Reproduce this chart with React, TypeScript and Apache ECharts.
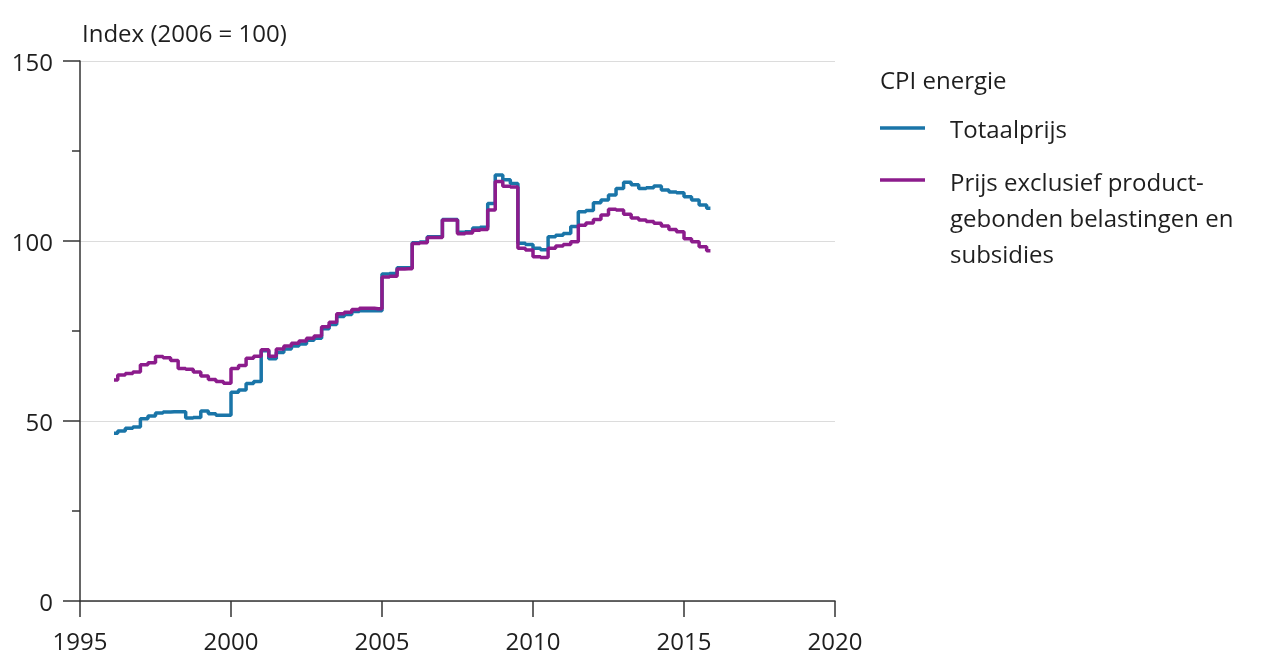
import React, { useEffect, useRef } from "react";
import * as echarts from "echarts";

const yearsStart = 1996;

const seriesNames = ["Totaalprijs", "Prijs exclusief product-\ngebonden belastingen en\nsubsidies"];
const legendTitle = "CPI energie";
const yAxisTitle = "Index (2006 = 100)";

const xTicks = [1995, 2000, 2005, 2010, 2015, 2020];
const yTicks = [0, 50, 100, 150];

// quarterly values, 1996 Q1 .. 2015 Q4
const totaalprijs = [
  46.6, 47.2, 48.0, 48.3,
  50.6, 51.4, 52.2, 52.5,
  52.6, 52.6, 50.8, 51.0,
  52.8, 52.0, 51.6, 51.6,
  58.0, 58.6, 60.4, 61.0,
  69.5, 67.3, 69.0, 70.0,
  70.8, 71.4, 72.4, 73.0,
  75.6, 76.8, 79.0, 79.6,
  80.4, 80.6, 80.6, 80.6,
  90.8, 91.0, 92.6, 92.6,
  99.5, 99.7, 101.2, 101.2,
  106.0, 106.0, 102.4, 102.6,
  103.6, 103.8, 110.4, 118.3,
  117.0, 116.0, 99.4, 99.0,
  98.0, 97.6, 101.2, 101.6,
  102.1, 104.0, 108.1, 108.5,
  110.6, 111.4, 112.8, 114.6,
  116.3, 115.6, 114.6, 114.8,
  115.3, 114.2, 113.6, 113.4,
  112.3, 111.4, 110.0, 109.1,
];

const exclusief = [
  61.4, 62.8, 63.2, 63.6,
  65.6, 66.2, 67.9, 67.6,
  66.8, 64.6, 64.4, 63.6,
  62.5, 61.5, 61.0, 60.5,
  64.6, 65.4, 67.4, 68.0,
  69.8, 68.0, 70.0, 70.8,
  71.6, 72.2, 73.0, 73.6,
  76.2, 77.4, 79.8, 80.2,
  81.0, 81.3, 81.3, 81.2,
  90.0, 90.2, 92.2, 92.3,
  99.3, 99.5, 101.0, 101.0,
  105.8, 105.8, 102.0, 102.2,
  103.0, 103.2, 108.6, 116.5,
  115.2, 115.0, 98.0, 97.5,
  95.6, 95.4, 98.0, 98.6,
  99.0, 99.8, 104.4, 105.0,
  106.0, 107.2, 108.8, 108.6,
  107.4, 106.4, 105.8, 105.4,
  104.9, 104.2, 103.2, 102.6,
  100.6, 99.8, 98.4, 97.3,
];

const colors = ["#1a75a8", "#8c1c8c"];

function quarterMid(i: number): number {
  return yearsStart + Math.floor(i / 4) + ((i % 4) + 0.5) / 4;
}

export default function App() {
  const ref = useRef<HTMLDivElement>(null);
  useEffect(() => {
    if (!ref.current) return;
    const chart = echarts.init(ref.current, null, { renderer: "svg" });
    const font = "'Open Sans', 'Noto Sans', sans-serif";
    const textColor = "#1e1e1e";
    const fs = 24;
    const s1 = totaalprijs.map((v, i) => [quarterMid(i), v]);
    const s2 = exclusief.map((v, i) => [quarterMid(i), v]);
    const legendX = 880;
    const legendTextX = 950;
    chart.setOption({
      animation: false,
      textStyle: { fontFamily: font },
      grid: { left: 80, right: 428, top: 61, bottom: 56, containLabel: false },
      xAxis: {
        type: "value",
        min: xTicks[0],
        max: xTicks[xTicks.length - 1],
        interval: 5,
        axisLine: { show: true, lineStyle: { color: "#333", width: 1.5 } },
        axisTick: { show: true, length: 16, lineStyle: { color: "#333", width: 1.5 } },
        axisLabel: { margin: 27, fontSize: fs, color: textColor, fontFamily: font, formatter: (v: number) => String(v) },
        splitLine: { show: false },
      },
      yAxis: {
        type: "value",
        min: yTicks[0],
        max: yTicks[yTicks.length - 1],
        interval: 50,
        axisLine: { show: true, lineStyle: { color: "#333", width: 1.5 } },
        axisTick: { show: true, length: 17, lineStyle: { color: "#333", width: 1.5 } },
        minorTick: { show: true, splitNumber: 2, length: 8, lineStyle: { color: "#333", width: 1.5 } },
        axisLabel: { margin: 27, fontSize: fs, color: textColor, fontFamily: font, formatter: (v: number) => String(v) },
        splitLine: { show: true, lineStyle: { color: "#dcdcdc", width: 1.2 } },
      },
      series: [
        {
          name: seriesNames[0],
          type: "line",
          step: "middle",
          data: s1,
          showSymbol: false,
          lineStyle: { color: colors[0], width: 3.5 },
          itemStyle: { color: colors[0] },
        },
        {
          name: seriesNames[1],
          type: "line",
          step: "middle",
          data: s2,
          showSymbol: false,
          lineStyle: { color: colors[1], width: 3.5 },
          itemStyle: { color: colors[1] },
        },
      ],
      graphic: [
        {
          type: "text",
          x: 82,
          y: 32,
          style: { text: yAxisTitle, fontSize: fs, fontFamily: font, fill: textColor, textVerticalAlign: "middle" },
        },
        {
          type: "text",
          x: legendX,
          y: 79,
          style: { text: legendTitle, fontSize: fs, fontFamily: font, fill: textColor, textVerticalAlign: "middle" },
        },
        {
          type: "line",
          shape: { x1: legendX, y1: 128, x2: legendX + 45, y2: 128 },
          style: { stroke: colors[0], lineWidth: 3.5 },
        },
        {
          type: "text",
          x: legendTextX,
          y: 128,
          style: { text: seriesNames[0], fontSize: fs, fontFamily: font, fill: textColor, textVerticalAlign: "middle" },
        },
        {
          type: "line",
          shape: { x1: legendX, y1: 180, x2: legendX + 45, y2: 180 },
          style: { stroke: colors[1], lineWidth: 3.5 },
        },
        {
          type: "text",
          x: legendTextX,
          y: 163,
          style: { text: seriesNames[1], fontSize: fs, lineHeight: 36, fontFamily: font, fill: textColor, textVerticalAlign: "top" },
        },
      ],
    });
    return () => chart.dispose();
  }, []);
  return <div ref={ref} style={{ position: "fixed", left: 0, top: 0, width: 1263, height: 657 }} />;
}
